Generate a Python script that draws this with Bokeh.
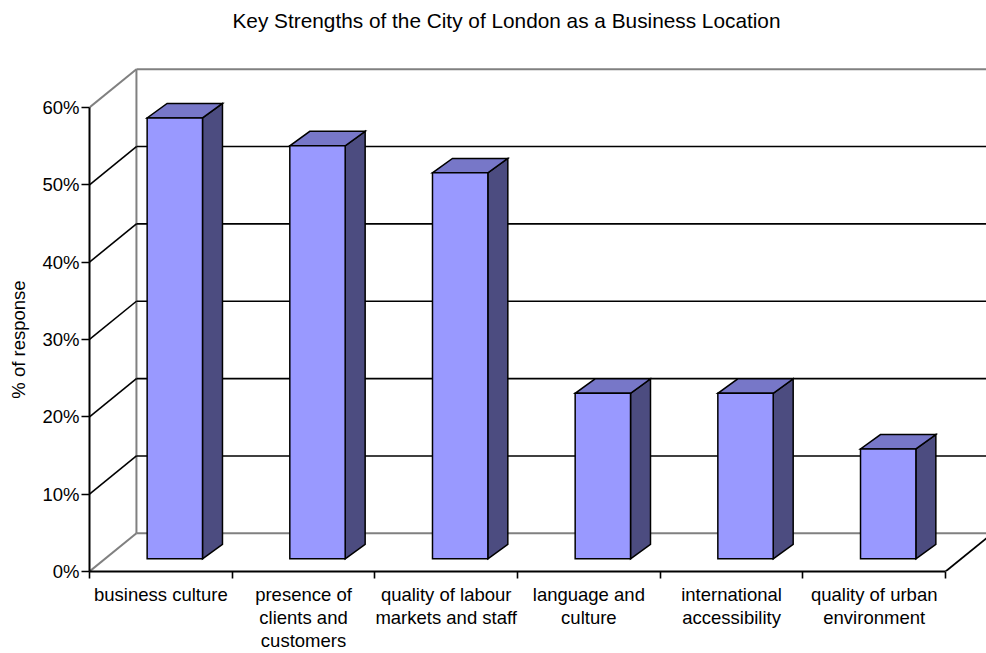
from bokeh.plotting import figure
from bokeh.models import FixedTicker, Range1d, LinearAxis, Title
from bokeh.embed import file_html
from bokeh.resources import INLINE

# ---- data ----
title_text = "Key Strengths of the City of London as a Business Location"
categories = [
    "business culture",
    "presence of\nclients and\ncustomers",
    "quality of labour\nmarkets and staff",
    "language and\nculture",
    "international\naccessibility",
    "quality of urban\nenvironment",
]
values = [57.0, 53.4, 49.9, 21.4, 21.4, 14.2]
y_ticks = [0, 10, 20, 30, 40, 50, 60]
y_labels = ["0%", "10%", "20%", "30%", "40%", "50%", "60%"]
y_axis_label = "% of response"

# ---- layout / projection constants ----
N = len(categories)
Y_MAX = y_ticks[-1]
WALL_DX, WALL_DY = 0.329, 4.94      # depth offset of back wall (data units)
BAR_X0, BAR_W = 0.404, 0.388        # bar front face position inside category
BAR_Y0 = 1.64                       # bar front face baseline (depth shift)
BAR_DX, BAR_DY = 0.140, 1.87        # bar depth offset
X_END, Y_END = 6.287, 65.29

FONT = "Liberation Sans"
GRAY = "#808080"
FS = "18.5px"
NBSP = "\u00a0"

p = figure(width=986, height=653, x_range=Range1d(0, X_END), y_range=Range1d(0, Y_END),
           output_backend="svg", toolbar_location=None,
           x_axis_location=None, y_axis_location=None,
           min_border_left=89, min_border_right=0, min_border_top=66, min_border_bottom=81)
p.grid.visible = False
p.outline_line_color = None
p.background_fill_color = "white"
p.border_fill_color = "white"

# spacer panel between frame and title, then the title itself
spacer = Title(text=NBSP, text_font_size="1px", standoff=32)
p.add_layout(spacer, "above")
main_title = Title(text=title_text, text_font=FONT, text_font_size="20.8px",
                   text_font_style="normal", text_color="black",
                   align="left", offset=143, standoff=0)
p.add_layout(main_title, "above")

# ---- walls ----
gray_idx = [0, len(y_ticks) - 1]
blk_idx = [k for k in range(len(y_ticks)) if k not in gray_idx]

def wall_lines(idx, color, width):
    p.segment(x0=[WALL_DX] * len(idx), y0=[y_ticks[k] + WALL_DY for k in idx],
              x1=[X_END] * len(idx), y1=[y_ticks[k] + WALL_DY for k in idx],
              line_color=color, line_width=width)
    p.segment(x0=[0] * len(idx), y0=[y_ticks[k] for k in idx],
              x1=[WALL_DX] * len(idx), y1=[y_ticks[k] + WALL_DY for k in idx],
              line_color=color, line_width=width)

wall_lines(gray_idx, GRAY, 2)
p.segment(x0=[WALL_DX], y0=[WALL_DY], x1=[WALL_DX], y1=[Y_MAX + WALL_DY],
          line_color=GRAY, line_width=2)
wall_lines(blk_idx, "black", 1.6)
p.segment(x0=[N], y0=[0], x1=[N + WALL_DX], y1=[WALL_DY], line_color="black", line_width=1.8)

# ---- bars ----
lefts = [i + BAR_X0 for i in range(N)]
rights = [l + BAR_W for l in lefts]
bottoms = [BAR_Y0] * N
tops = [BAR_Y0 + v for v in values]

top_xs = [[l, r, r + BAR_DX, l + BAR_DX] for l, r in zip(lefts, rights)]
top_ys = [[t, t, t + BAR_DY, t + BAR_DY] for t in tops]
side_xs = [[r, r + BAR_DX, r + BAR_DX, r] for r in rights]
side_ys = [[b, b + BAR_DY, t + BAR_DY, t] for b, t in zip(bottoms, tops)]

p.patches(xs=side_xs, ys=side_ys, fill_color="#4C4C80", line_color="black",
          line_width=1.5, line_join="miter")
p.patches(xs=top_xs, ys=top_ys, fill_color="#7777C8", line_color="black",
          line_width=1.5, line_join="miter")
p.quad(left=lefts, right=rights, bottom=bottoms, top=tops, fill_color="#9999FF",
       line_color="black", line_width=1.5, line_join="miter")

# ---- axes ----
yaxis = LinearAxis(ticker=FixedTicker(ticks=y_ticks, minor_ticks=[]), bounds=(0, Y_MAX))
yaxis.major_label_overrides = {t: l for t, l in zip(y_ticks, y_labels)}
# trailing no-break spaces centre the rotated label on the 0-60% axis span
yaxis.axis_label = y_axis_label + NBSP * 8
yaxis.axis_label_text_font = FONT
yaxis.axis_label_text_font_size = FS
yaxis.axis_label_text_font_style = "normal"
yaxis.axis_label_text_color = "black"
yaxis.axis_label_standoff = 10
yaxis.major_label_text_font = FONT
yaxis.major_label_text_font_size = FS
yaxis.major_label_text_color = "black"
yaxis.major_label_standoff = 2
yaxis.major_tick_out = 8
yaxis.major_tick_in = 0
yaxis.major_tick_line_width = 1.6
yaxis.axis_line_width = 2
yaxis.axis_line_color = "black"
p.add_layout(yaxis, "left")

xaxis = LinearAxis(ticker=FixedTicker(ticks=[i + 0.5 for i in range(N)],
                                      minor_ticks=list(range(N + 1))),
                   bounds=(0, N))
xaxis.major_label_overrides = {i + 0.5: c for i, c in enumerate(categories)}
xaxis.major_label_text_font = FONT
xaxis.major_label_text_font_size = FS
xaxis.major_label_text_color = "black"
xaxis.major_label_text_line_height = 1.1
xaxis.major_label_standoff = 5
xaxis.major_tick_out = 0
xaxis.major_tick_in = 0
xaxis.minor_tick_out = 7
xaxis.minor_tick_in = 0
xaxis.minor_tick_line_color = "black"
xaxis.minor_tick_line_width = 1.6
xaxis.axis_line_width = 2
xaxis.axis_line_color = "black"
p.add_layout(xaxis, "below")

open("out.html", "w").write(file_html(p, INLINE))
